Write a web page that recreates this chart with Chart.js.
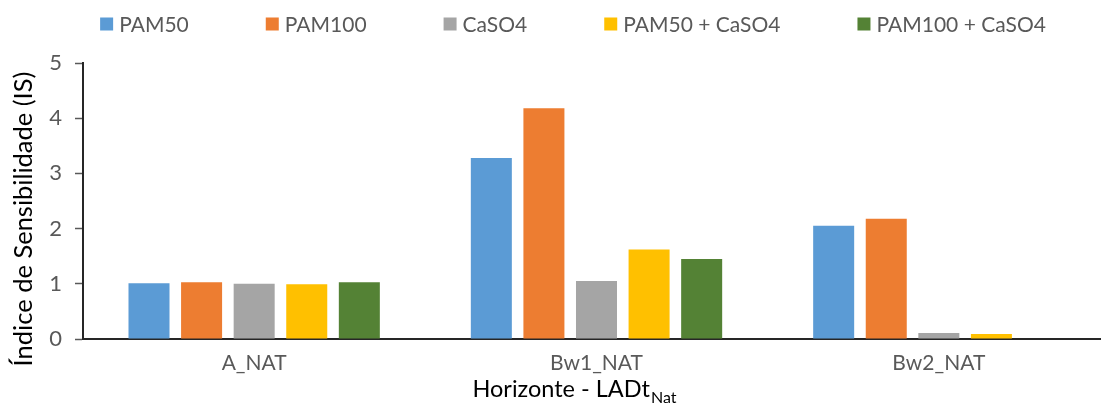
<!DOCTYPE html>
<html>
<head>
<meta charset="utf-8">
<script src="https://cdn.jsdelivr.net/npm/chart.js@4/dist/chart.umd.min.js"></script>
<style>
  html, body { margin: 0; padding: 0; background: #fff; overflow: hidden; }
  #wrap { position: relative; width: 1146px; height: 412px; }
</style>
</head>
<body>
<div id="wrap"><canvas id="chart"></canvas></div>
<script>
// Horizons and sensitivity index per treatment
const categories = ['A_NAT', 'Bw1_NAT', 'Bw2_NAT'];
const seriesNames = ['PAM50', 'PAM100', 'CaSO4', 'PAM50 + CaSO4', 'PAM100 + CaSO4'];
const pam50 = [1.01, 3.28, 2.05];
const pam100 = [1.03, 4.18, 2.18];
const caso4 = [1.00, 1.05, 0.11];
const pam50Caso4 = [0.99, 1.62, 0.09];
const pam100Caso4 = [1.03, 1.45, 0.01];
const yTicks = [0, 1, 2, 3, 4, 5];
const yTitle = 'Índice de Sensibilidade (IS)';
const xTitleMain = 'Horizonte - LADt';
const xTitleSub = 'Nat';

const colors = ['#5B9BD5', '#ED7D31', '#A5A5A5', '#FFC000', '#548235'];
const values = [pam50, pam100, caso4, pam50Caso4, pam100Caso4];
const FONT = 'Lato';

const datasets = seriesNames.map((name, i) => ({
  label: name,
  data: values[i],
  backgroundColor: colors[i],
  borderWidth: 0,
  categoryPercentage: 0.768,
  barPercentage: 0.78
}));

// Legend row and axis titles (with subscript) drawn on the canvas
const decorations = {
  id: 'decorations',
  afterDraw(chart) {
    const ctx = chart.ctx;
    ctx.save();
    // legend
    ctx.font = '21px ' + FONT;
    const box = 13, gap = 6, spacing = 77;
    const items = chart.data.datasets.map(ds => ({
      label: ds.label, color: ds.backgroundColor, w: ctx.measureText(ds.label).width
    }));
    let total = items.reduce((s, it) => s + box + gap + it.w, 0) + spacing * (items.length - 1);
    let x = chart.width / 2 - total / 2;
    const cy = 24;
    ctx.textBaseline = 'middle';
    ctx.textAlign = 'left';
    items.forEach(it => {
      ctx.fillStyle = it.color;
      ctx.fillRect(x, cy - box / 2, box, box);
      ctx.fillStyle = '#595959';
      ctx.fillText(it.label, x + box + gap, cy + 1);
      x += box + gap + it.w + spacing;
    });
    // y title
    ctx.save();
    ctx.translate(24, 219);
    ctx.rotate(-Math.PI / 2);
    ctx.font = '25.5px ' + FONT;
    ctx.fillStyle = '#000';
    ctx.textAlign = 'center';
    ctx.textBaseline = 'middle';
    ctx.fillText(yTitle, 0, 0);
    ctx.restore();
    // x title with subscript
    ctx.font = '23.5px ' + FONT;
    const wMain = ctx.measureText(xTitleMain).width;
    ctx.font = '16px ' + FONT;
    const wSub = ctx.measureText(xTitleSub).width;
    let tx = 574 - (wMain + wSub) / 2;
    ctx.textBaseline = 'alphabetic';
    ctx.fillStyle = '#000';
    ctx.font = '23.5px ' + FONT;
    ctx.fillText(xTitleMain, tx, 397);
    ctx.font = '16px ' + FONT;
    ctx.fillText(xTitleSub, tx + wMain + 1, 403);
    ctx.restore();
  }
};

new Chart(document.getElementById('chart'), {
  type: 'bar',
  data: { labels: categories, datasets },
  options: {
    responsive: true,
    maintainAspectRatio: false,
    animation: false,
    layout: { padding: { top: 63, left: 0, right: 36, bottom: 0 } },
    plugins: {
      legend: { display: false },
      tooltip: { enabled: false }
    },
    scales: {
      x: {
        offset: true,
        grid: { display: false, drawTicks: false },
        border: { display: true, color: '#262626', width: 2 },
        ticks: { color: '#595959', font: { family: FONT, size: 21 }, padding: 12 },
        afterFit(scale) { scale.height = 73; }
      },
      y: {
        min: 0,
        max: 5,
        afterBuildTicks(scale) { scale.ticks = yTicks.map(v => ({ value: v })); },
        grid: { display: true, drawOnChartArea: false, drawTicks: true, tickLength: 8, tickColor: '#595959', tickWidth: 1.5 },
        border: { display: true, color: '#262626', width: 2 },
        ticks: { color: '#595959', font: { family: FONT, size: 22 }, padding: 13 },
        afterFit(scale) { scale.width = 83; }
      }
    }
  },
  plugins: [decorations]
});
</script>
</body>
</html>
